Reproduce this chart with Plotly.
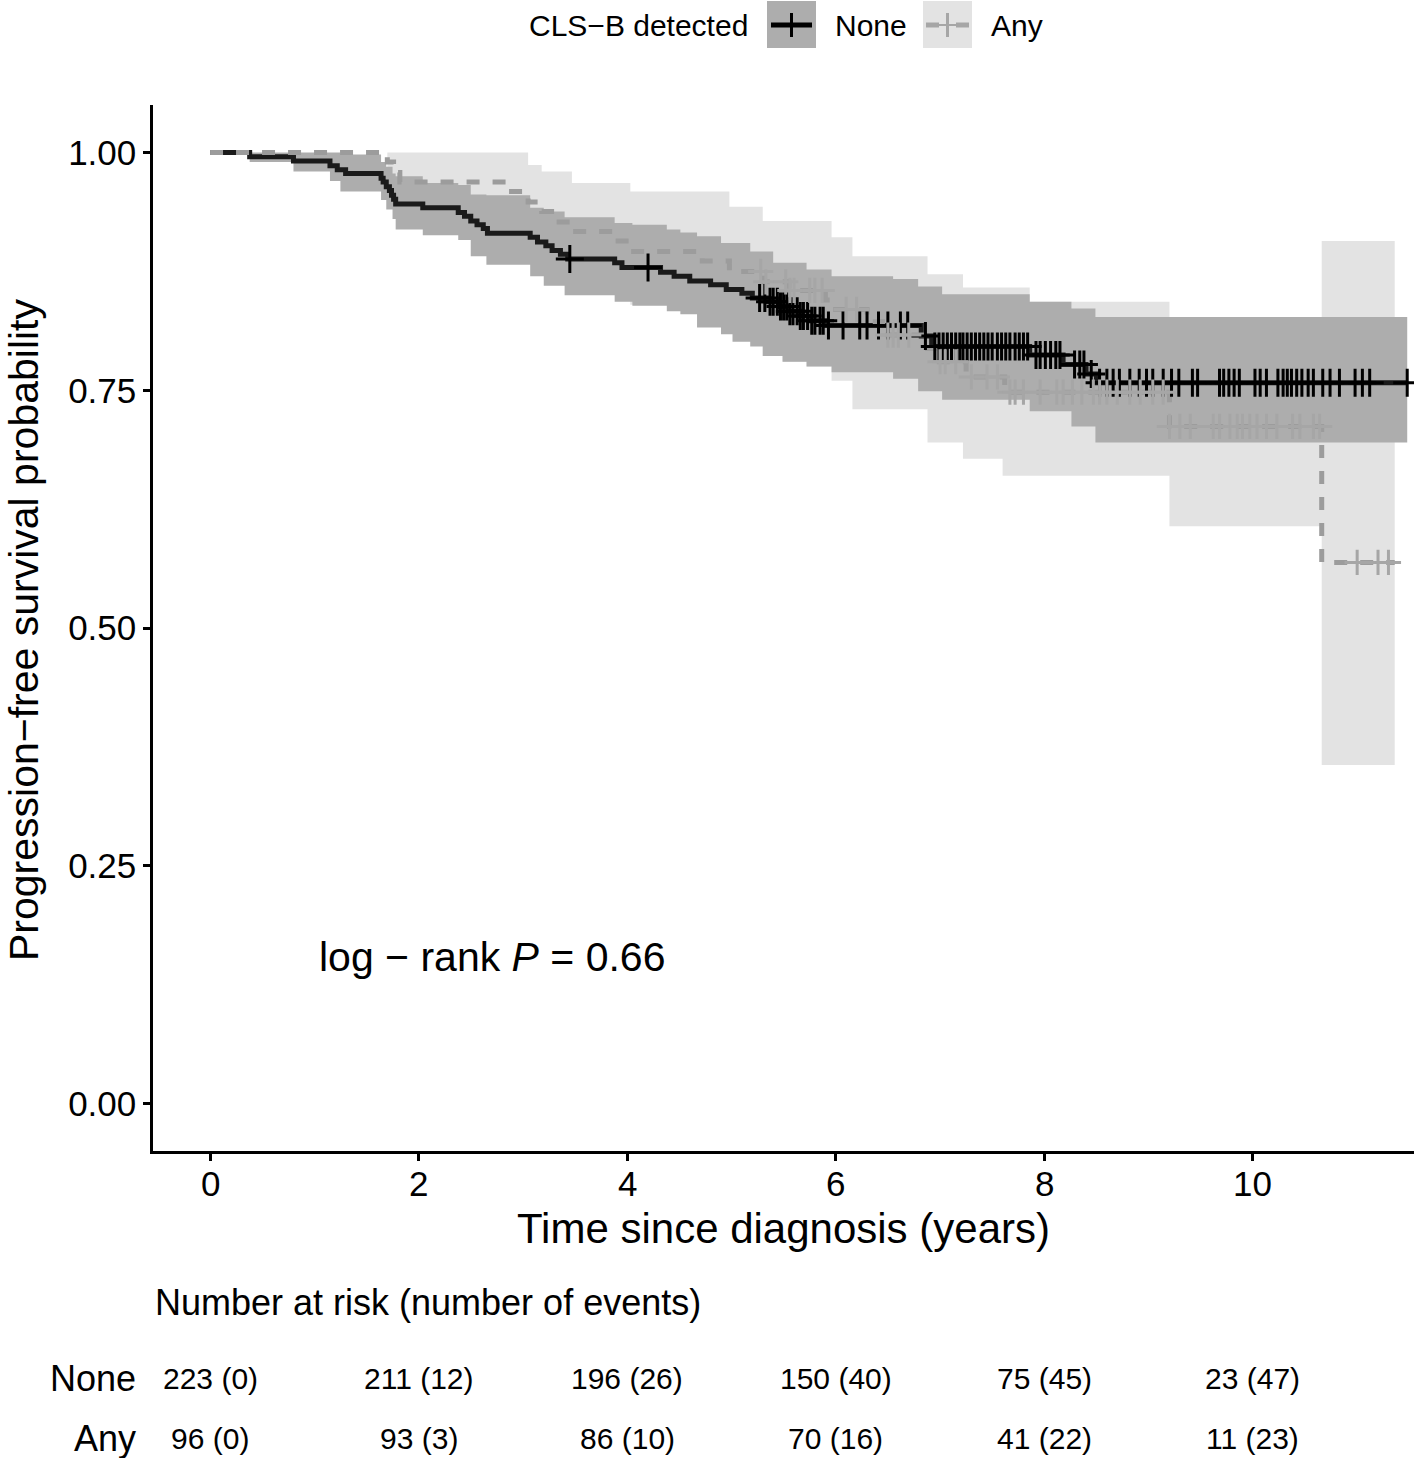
import numpy as np
import plotly.graph_objects as go

# ---------------- data ----------------
# Kaplan-Meier curve: CLS-B None
none_t = [0, 0.38, 0.80, 1.15, 1.22, 1.30, 1.64, 1.66, 1.69, 1.72, 1.74, 1.76, 1.78, 2.04, 2.38, 2.44,
          2.50, 2.56, 2.62, 2.66, 3.07, 3.14, 3.22, 3.28, 3.36, 3.43, 3.88, 3.95, 4.32, 4.45, 4.60,
          4.80, 4.95, 5.10, 5.20, 5.35, 5.45, 5.55, 5.65, 5.75, 5.90, 6.82, 6.92, 7.86, 8.18, 8.40, 8.50]
none_s = [1.0, 0.9955, 0.991, 0.986, 0.982, 0.978, 0.973, 0.969, 0.964, 0.960, 0.955, 0.951, 0.946, 0.942,
          0.937, 0.933, 0.928, 0.924, 0.920, 0.915, 0.911, 0.906, 0.902, 0.897, 0.893, 0.888, 0.884,
          0.879, 0.874, 0.870, 0.865, 0.861, 0.856, 0.852, 0.847, 0.843, 0.838, 0.833, 0.828, 0.823,
          0.818, 0.807, 0.796, 0.787, 0.777, 0.767, 0.758]
none_end = 11.48
none_band_t = [0, 0.38, 0.80, 1.15, 1.25, 1.64, 1.69, 1.75, 1.78, 2.04, 2.38, 2.50, 2.65, 3.07, 3.20, 3.40,
               3.88, 4.05, 4.38, 4.51, 4.67, 4.90, 5.01, 5.18, 5.30, 5.40, 5.49, 5.72, 5.96, 6.55, 6.79,
               7.02, 7.86, 8.26, 8.49]
none_lo = [1.0, 0.99, 0.98, 0.97, 0.959, 0.95, 0.94, 0.93, 0.919, 0.913, 0.908, 0.891, 0.882, 0.87, 0.86,
           0.85, 0.843, 0.839, 0.833, 0.83, 0.816, 0.809, 0.801, 0.796, 0.786, 0.786, 0.78, 0.775, 0.769,
           0.762, 0.749, 0.74, 0.728, 0.712, 0.695]
none_hi = [1.0, 1.0, 1.0, 1.0, 0.998, 0.99, 0.985, 0.978, 0.975, 0.968, 0.966, 0.956, 0.955, 0.942, 0.938,
           0.932, 0.926, 0.924, 0.919, 0.916, 0.912, 0.905, 0.905, 0.896, 0.896, 0.884, 0.884, 0.877,
           0.87, 0.867, 0.859, 0.851, 0.843, 0.836, 0.827]
none_cens = [3.45, 4.20, 5.27, 5.32, 5.37, 5.40, 5.44, 5.47, 5.50, 5.53, 5.56, 5.59, 5.63, 5.66, 5.69, 5.73,
             5.77, 5.80, 5.85, 5.88, 5.93, 6.07, 6.23, 6.30, 6.41, 6.50, 6.62, 6.69, 6.86, 6.95, 6.99,
             7.03, 7.07, 7.11, 7.15, 7.19, 7.22, 7.26, 7.30, 7.34, 7.38, 7.42, 7.46,
             7.50, 7.55, 7.59, 7.63, 7.67, 7.72, 7.76, 7.80, 7.84, 7.92, 7.96, 8.01, 8.06, 8.11, 8.15, 8.29,
             8.34, 8.38, 8.45, 8.53, 8.60, 8.66, 8.72, 8.82, 8.91, 8.98, 9.04, 9.14, 9.22, 9.29, 9.42, 9.47,
             9.68, 9.72, 9.77, 9.82, 9.87, 10.02, 10.07, 10.13, 10.24, 10.29, 10.33, 10.37, 10.42, 10.47,
             10.53, 10.58, 10.67, 10.74, 10.83, 10.98, 11.05, 11.12, 11.48]

# Kaplan-Meier curve: CLS-B Any
any_t = [0, 1.70, 1.76, 1.82, 2.86, 3.05, 3.18, 3.32, 3.47, 3.88, 4.03, 4.72, 4.98, 5.30, 5.55, 5.90,
         5.97, 6.30, 6.45, 6.88, 6.95, 7.25, 7.62, 9.20, 10.66]
any_s = [1.0, 0.990, 0.979, 0.969, 0.959, 0.948, 0.938, 0.927, 0.917, 0.907, 0.896, 0.886, 0.875, 0.864,
         0.855, 0.845, 0.835, 0.822, 0.808, 0.794, 0.780, 0.764, 0.748, 0.712, 0.569]
any_end = 11.36
any_band_t = [0, 1.70, 1.76, 1.82, 2.86, 3.05, 3.18, 3.32, 3.47, 3.88, 4.03, 4.72, 4.98, 5.30, 5.49, 5.72,
              5.96, 6.16, 6.88, 7.22, 7.60, 7.86, 9.20, 10.66]
any_hi = [1.0, 1.0, 1.0, 1.0, 1.0, 0.987, 0.98, 0.98, 0.968, 0.968, 0.959, 0.959, 0.943, 0.928, 0.928,
          0.928, 0.911, 0.891, 0.872, 0.858, 0.858, 0.843, 0.82, 0.907]
any_lo = [1.0, 0.97, 0.955, 0.935, 0.92, 0.905, 0.89, 0.88, 0.865, 0.855, 0.84, 0.83, 0.815, 0.786, 0.78,
          0.775, 0.76, 0.73, 0.695, 0.678, 0.66, 0.66, 0.607, 0.356]
any_cens = [5.28, 5.33, 5.52, 5.56, 5.60, 5.75, 5.80, 5.87, 6.10, 6.20, 6.50, 6.55, 6.60, 6.70, 7.00, 7.05,
            7.15, 7.30, 7.45, 7.55, 7.67, 7.72, 7.80, 7.96, 8.12, 8.18, 8.27, 8.36, 8.47, 8.53, 8.60, 8.70,
            8.82, 8.92, 9.04, 9.14, 9.20, 9.30, 9.40, 9.62, 9.68, 9.78, 9.85, 9.90, 9.97, 10.04, 10.13,
            10.23, 10.38, 10.45, 10.58, 10.64, 11.00, 11.20, 11.30]

# risk table
risk_times = [0, 2, 4, 6, 8, 10]
none_risk = [223, 211, 196, 150, 75, 23]
none_events = [0, 12, 26, 40, 45, 47]
any_risk = [96, 93, 86, 70, 41, 11]
any_events = [0, 3, 10, 16, 22, 23]

groups = ["None", "Any"]
legend_title = "CLS−B detected"
pval_text = "log − rank <i>P</i> = 0.66"

# ---------------- style ----------------
FONT = "Liberation Sans, Arial, sans-serif"
NONE_LINE = "#1a1a1a"
ANY_LINE = "#9c9c9c"
NONE_FILL = "#adadad"
ANY_FILL = "#e3e3e3"
ANY_CENS = "#a6a6a6"

W, H = 1418, 1458
ML, MR, MT, MB = 153, 4, 105, 307
PW, PH = W - ML - MR, H - MT - MB


def px(xp):
    return (xp - ML) / PW


def py(yp):
    return (H - MB - yp) / PH


def step_xy(t, v, end):
    return list(t) + [end], list(v) + [v[-1]]


def step_at(t, v, q):
    idx = np.searchsorted(np.array(t), np.array(q), side="right") - 1
    return [v[i] for i in idx]


fig = go.Figure()

# bands
for bt, lo, hi, end, col in [(any_band_t, any_lo, any_hi, any_end, ANY_FILL),
                             (none_band_t, none_lo, none_hi, none_end, NONE_FILL)]:
    x, yh = step_xy(bt, hi, end)
    _, yl = step_xy(bt, lo, end)
    fig.add_trace(go.Scatter(x=x, y=yh, mode="lines", line=dict(width=0, shape="hv"),
                             hoverinfo="skip", showlegend=False))
    fig.add_trace(go.Scatter(x=x, y=yl, mode="lines", line=dict(width=0, shape="hv"),
                             fill="tonexty", fillcolor=col, hoverinfo="skip", showlegend=False))

# curves
x, y = step_xy(none_t, none_s, none_end)
fig.add_trace(go.Scatter(x=x, y=y, mode="lines", line=dict(color=NONE_LINE, width=5, shape="hv"),
                         name=groups[0], showlegend=False))
x, y = step_xy(any_t, any_s, any_end)
fig.add_trace(go.Scatter(x=x, y=y, mode="lines",
                         line=dict(color=ANY_LINE, width=5, shape="hv", dash="13px,13px"),
                         name=groups[1], showlegend=False))

# censor marks
fig.add_trace(go.Scatter(x=none_cens, y=step_at(none_t, none_s, none_cens), mode="markers",
                         marker=dict(symbol="cross-thin", size=20,
                                     line=dict(color="black", width=3)),
                         showlegend=False, hoverinfo="skip"))
fig.add_trace(go.Scatter(x=any_cens, y=step_at(any_t, any_s, any_cens), mode="markers",
                         marker=dict(symbol="cross-thin", size=18,
                                     line=dict(color=ANY_CENS, width=3)),
                         showlegend=False, hoverinfo="skip"))

ann = []
# x tick labels
for t in risk_times:
    ann.append(dict(text=str(t), x=t, y=py(1183), xref="x", yref="paper", showarrow=False,
                    xanchor="center", yanchor="middle", font=dict(size=35, family=FONT, color="black")))
# axis titles
ann.append(dict(text="Time since diagnosis (years)", x=0.5, y=py(1228), xref="paper", yref="paper",
                showarrow=False, font=dict(size=42, family=FONT, color="black"),
                xanchor="center", yanchor="middle"))
ann.append(dict(text="Progression−free survival probability", x=px(24), y=py(630), xref="paper",
                yref="paper", showarrow=False, textangle=-90,
                font=dict(size=41, family=FONT, color="black"), xanchor="center", yanchor="middle"))
# p-value
ann.append(dict(text=pval_text, x=1.03, y=0.154, xref="x", yref="y", showarrow=False,
                xanchor="left", yanchor="middle", font=dict(size=41, family=FONT, color="black")))
# risk table
ann.append(dict(text="Number at risk (number of events)", x=0, y=py(1302), xref="paper", yref="paper",
                showarrow=False, xanchor="left", yanchor="middle",
                font=dict(size=36, family=FONT, color="black")))
for g, ry, risk, ev in [(groups[0], 1378, none_risk, none_events), (groups[1], 1438, any_risk, any_events)]:
    ann.append(dict(text=g, x=px(138), y=py(ry), xref="paper", yref="paper", showarrow=False,
                    xanchor="right", yanchor="middle", font=dict(size=36, family=FONT, color="black")))
    for t, r, e in zip(risk_times, risk, ev):
        ann.append(dict(text=f"{r} ({e})", x=t, y=py(ry), xref="x", yref="paper", showarrow=False,
                        xanchor="center", yanchor="middle",
                        font=dict(size=30, family=FONT, color="black")))

# manual legend
ann.append(dict(text=legend_title, x=px(527), y=py(25), xref="paper", yref="paper", showarrow=False,
                xanchor="left", yanchor="middle", font=dict(size=30, family=FONT, color="black")))
ann.append(dict(text=groups[0], x=px(833), y=py(25), xref="paper", yref="paper", showarrow=False,
                xanchor="left", yanchor="middle", font=dict(size=30, family=FONT, color="black")))
ann.append(dict(text=groups[1], x=px(989), y=py(25), xref="paper", yref="paper", showarrow=False,
                xanchor="left", yanchor="middle", font=dict(size=30, family=FONT, color="black")))

shapes = []
for x0, fill, lc, dash in [(767, NONE_FILL, "black", "solid"), (923, ANY_FILL, ANY_CENS, "dash")]:
    shapes.append(dict(type="rect", xref="paper", yref="paper", x0=px(x0), x1=px(x0 + 49),
                       y0=py(48), y1=py(1), fillcolor=fill, line=dict(width=0), layer="above"))
    if dash == "solid":
        shapes.append(dict(type="line", xref="paper", yref="paper", x0=px(x0 + 4), x1=px(x0 + 45),
                           y0=py(25), y1=py(25), line=dict(color=lc, width=5), layer="above"))
    else:
        for a, b in [(x0 + 3, x0 + 16), (x0 + 33, x0 + 46)]:
            shapes.append(dict(type="line", xref="paper", yref="paper", x0=px(a), x1=px(b),
                               y0=py(25), y1=py(25), line=dict(color=lc, width=5), layer="above"))
        shapes.append(dict(type="line", xref="paper", yref="paper", x0=px(x0 + 16), x1=px(x0 + 33),
                           y0=py(25), y1=py(25), line=dict(color=lc, width=2), layer="above"))
    shapes.append(dict(type="line", xref="paper", yref="paper", x0=px(x0 + 24.5), x1=px(x0 + 24.5),
                       y0=py(13), y1=py(37), line=dict(color=lc, width=3), layer="above"))

fig.update_layout(
    width=W, height=H, margin=dict(l=ML, r=MR, t=MT, b=MB, pad=0),
    paper_bgcolor="white", plot_bgcolor="white", showlegend=False,
    font=dict(family=FONT, color="black"),
    annotations=ann, shapes=shapes,
    xaxis=dict(range=[-0.547, 11.545], tickvals=risk_times, showticklabels=False,
               showgrid=False, zeroline=False, showline=True, linecolor="black", linewidth=2.5,
               ticks="outside", ticklen=7, tickwidth=2.5, tickcolor="black"),
    yaxis=dict(range=[-0.05, 1.05], tickvals=[0, 0.25, 0.5, 0.75, 1.0], tickformat=".2f",
               showgrid=False, zeroline=False, showline=True, linecolor="black", linewidth=2.5,
               ticks="outside", ticklen=7, tickwidth=2.5, tickcolor="black",
               tickfont=dict(size=35, family=FONT, color="black")),
)

fig.write_html("out.html", config={"displayModeBar": False},
               post_script="document.body.style.margin='0px';document.body.style.overflow='hidden';")
